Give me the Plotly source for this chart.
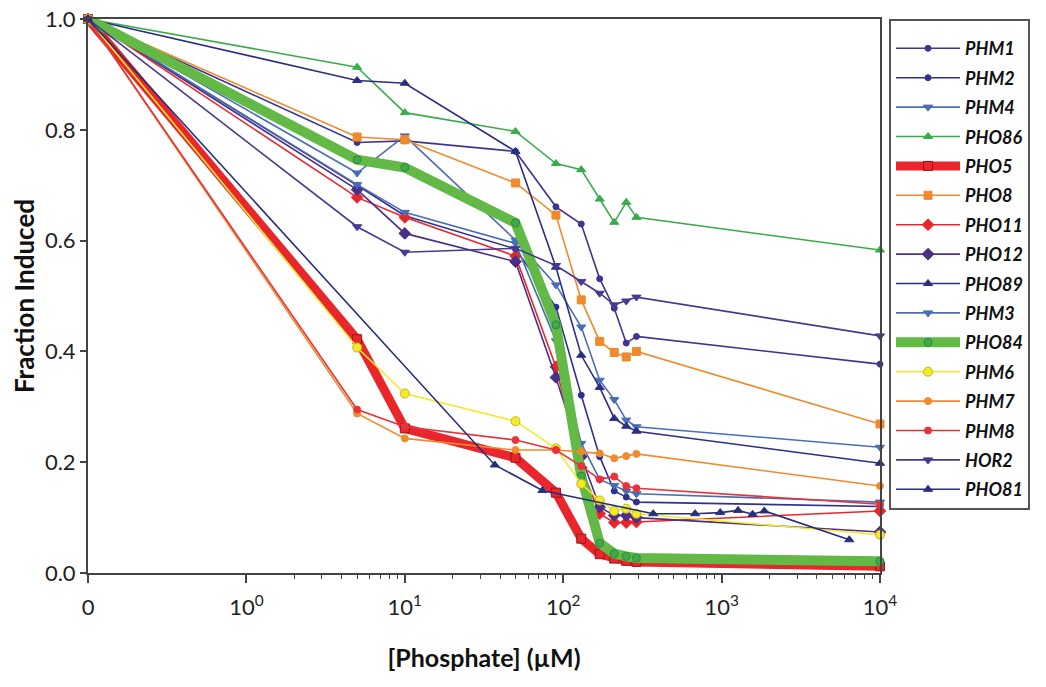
import plotly.graph_objects as go

# phosphate concentrations (uM); 0 is drawn at the 10^-1 slot of the log axis
conc = [0, 5, 10, 50, 90, 130, 170, 210, 250, 290, 10000]
conc_pho81 = [0, 37, 74, 370, 680, 980, 1270, 1570, 1860, 6400]

phm1 = [1.0, 0.777, 0.780, 0.761, 0.661, 0.630, 0.531, 0.478, 0.415, 0.427, 0.377]
phm2 = [1.0, 0.700, 0.645, 0.585, 0.480, 0.321, 0.210, 0.148, 0.137, 0.128, 0.120]
phm4 = [1.0, 0.722, 0.789, 0.601, 0.520, 0.444, 0.348, 0.313, 0.276, 0.264, 0.227]
pho86 = [1.0, 0.913, 0.831, 0.797, 0.739, 0.728, 0.675, 0.633, 0.669, 0.642, 0.583]
pho5 = [1.0, 0.422, 0.261, 0.208, 0.145, 0.062, 0.034, 0.026, 0.022, 0.020, 0.012]
pho8 = [1.0, 0.787, 0.782, 0.704, 0.646, 0.493, 0.418, 0.398, 0.390, 0.400, 0.269]
pho11 = [1.0, 0.678, 0.642, 0.572, 0.372, 0.190, 0.107, 0.091, 0.091, 0.092, 0.112]
pho12 = [1.0, 0.692, 0.613, 0.562, 0.353, 0.210, 0.119, 0.104, 0.104, 0.100, 0.074]
pho89 = [1.0, 0.889, 0.884, 0.761, 0.552, 0.393, 0.335, 0.279, 0.265, 0.256, 0.198]
phm3 = [1.0, 0.701, 0.651, 0.595, 0.419, 0.234, 0.169, 0.158, 0.148, 0.143, 0.128]
pho84 = [1.0, 0.746, 0.732, 0.632, 0.448, 0.175, 0.054, 0.035, 0.030, 0.027, 0.021]
phm6 = [1.0, 0.407, 0.324, 0.274, 0.225, 0.161, 0.131, 0.112, 0.116, 0.107, 0.069]
phm7 = [1.0, 0.288, 0.243, 0.222, 0.222, 0.219, 0.216, 0.207, 0.211, 0.215, 0.157]
phm8 = [1.0, 0.295, 0.264, 0.240, 0.222, 0.193, 0.169, 0.174, 0.157, 0.153, 0.124]
hor2 = [1.0, 0.625, 0.579, 0.586, 0.555, 0.526, 0.505, 0.484, 0.491, 0.498, 0.428]
pho81 = [1.0, 0.195, 0.149, 0.107, 0.107, 0.109, 0.113, 0.106, 0.112, 0.060]

x_tickvals = [0.1, 1, 10, 100, 1000, 10000]
x_ticktext = ["0", "10<sup>0</sup>", "10<sup>1</sup>", "10<sup>2</sup>",
              "10<sup>3</sup>", "10<sup>4</sup>"]

def xpos(c):
    return [0.1 if v == 0 else v for v in c]

# name, x, y, line colour, line width, marker symbol, marker size, marker fill, marker edge
series = [
    ("PHM1", conc, phm1, "#3d3590", 1.6, "circle", 6, "#3d3590", "#3d3590"),
    ("PHM2", conc, phm2, "#2e3190", 1.6, "circle", 6, "#2e3190", "#2e3190"),
    ("PHM4", conc, phm4, "#4a6db5", 1.6, "triangle-down", 8, "#4a6db5", "#4a6db5"),
    ("PHO86", conc, pho86, "#3aab4b", 1.6, "triangle-up", 8, "#3aab4b", "#3aab4b"),
    ("PHO5", conc, pho5, "#e8262b", 9, "square", 9, "#e8262b", "#a01418"),
    ("PHO8", conc, pho8, "#f08a2c", 1.6, "square", 8, "#f08a2c", "#f08a2c"),
    ("PHO11", conc, pho11, "#e8262b", 1.6, "diamond", 9, "#e8262b", "#e8262b"),
    ("PHO12", conc, pho12, "#4a2f88", 1.6, "diamond", 9, "#4a2f88", "#4a2f88"),
    ("PHO89", conc, pho89, "#2b2e82", 1.6, "triangle-up", 8, "#2b2e82", "#2b2e82"),
    ("PHM3", conc, phm3, "#4a6cb3", 1.6, "triangle-down", 8, "#4a6cb3", "#4a6cb3"),
    ("PHO84", conc, pho84, "#62b946", 10, "circle", 8, "#3faa4a", "#2e8a3a"),
    ("PHM6", conc, phm6, "#f3ea2a", 1.6, "circle", 9, "#f3ea2a", "#c9b41a"),
    ("PHM7", conc, phm7, "#f08a2c", 1.6, "circle", 7, "#f08a2c", "#f08a2c"),
    ("PHM8", conc, phm8, "#e8333a", 1.6, "circle", 7, "#e8333a", "#e8333a"),
    ("HOR2", conc, hor2, "#453a8e", 1.6, "triangle-down", 8, "#453a8e", "#453a8e"),
    ("PHO81", conc_pho81, pho81, "#262f7b", 1.6, "triangle-up", 8, "#262f7b", "#262f7b"),
]

fig = go.Figure()
for name, xs, ys, lc, lw, sym, ms, mfill, medge in series:
    fig.add_trace(go.Scatter(
        x=xpos(xs), y=ys, name=name, mode="lines+markers",
        legendgroup=name,
        line=dict(color=lc, width=lw),
        marker=dict(symbol=sym, size=ms, color=mfill, line=dict(color=medge, width=1)),
        cliponaxis=False,
    ))

minor_vals = [m * 10 ** k for k in range(0, 4) for m in range(2, 10)]

# page body adds an 8px offset, so the figure is 8px smaller than the window
fig.update_layout(
    width=1038, height=679,
    margin=dict(l=80, r=166, t=11, b=114, autoexpand=False),
    paper_bgcolor="white", plot_bgcolor="white",
    font=dict(family="Lato, 'Open Sans', sans-serif", color="#222"),
    legend=dict(
        x=1.0114, y=1.0, xanchor="left", yanchor="top",
        bordercolor="#555", borderwidth=2, bgcolor="white",
        font=dict(size=18, weight="bold", style="italic", color="#111"),
        tracegroupgap=3, itemwidth=64,
        title=dict(text=" ", font=dict(size=7)),
    ),
    xaxis=dict(
        type="log", range=[-1, 4],
        tickmode="array", tickvals=x_tickvals, ticktext=x_ticktext,
        ticks="outside", ticklen=8, tickwidth=1.5, tickcolor="#444",
        ticklabelstandoff=6,
        minor=dict(tickmode="array", tickvals=minor_vals, ticks="outside",
                   ticklen=4, tickwidth=1, tickcolor="#444", showgrid=False),
        showline=True, linecolor="#444", linewidth=2, mirror=True,
        showgrid=False, zeroline=False,
        tickfont=dict(size=22, color="#222"),
        title=dict(text="[Phosphate] (µM)", standoff=30,
                   font=dict(size=25, weight="bold", color="#111")),
    ),
    yaxis=dict(
        range=[0, 1.0], tickvals=[0, 0.2, 0.4, 0.6, 0.8, 1.0],
        ticktext=["0.0", "0.2", "0.4", "0.6", "0.8", "1.0"],
        ticks="outside", ticklen=6, tickwidth=1.5, tickcolor="#444",
        ticklabeloverflow="allow",
        showline=True, linecolor="#444", linewidth=2, mirror=True,
        showgrid=False, zeroline=False,
        tickfont=dict(size=22, color="#222"),
        title=dict(text="Fraction Induced", standoff=6,
                   font=dict(size=26, weight="bold", color="#111")),
    ),
)

fig.write_html("out.html")
